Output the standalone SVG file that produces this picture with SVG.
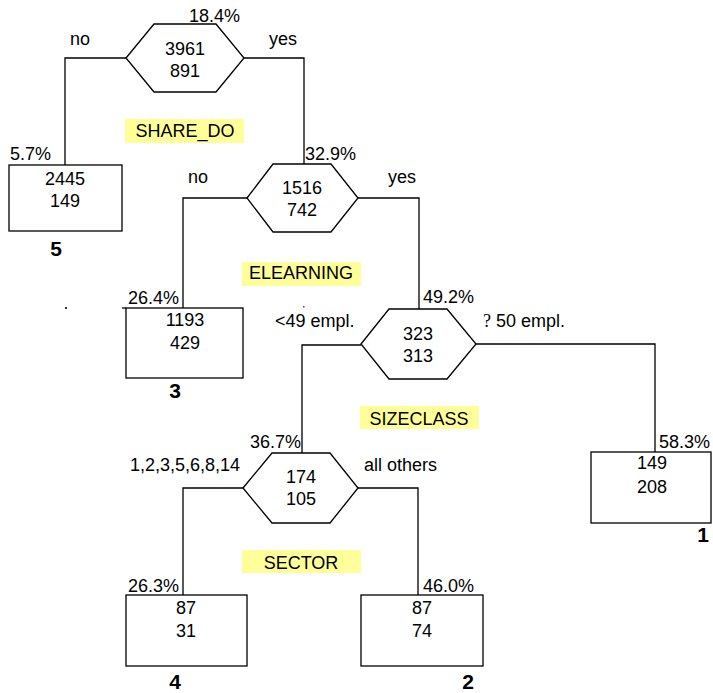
<svg xmlns="http://www.w3.org/2000/svg" width="713" height="693" viewBox="0 0 713 693">
<style>
text{font-family:"Liberation Sans",Arial,sans-serif;font-size:18px;fill:#000}
.c{text-anchor:middle}
.b{font-weight:bold;font-size:21px}
.shape{fill:#fff;stroke:#000;stroke-width:1.3}
.lab{fill:#ffff99}
.conn path{fill:none;stroke:#000;stroke-width:1.3}
.q{font-family:"Liberation Serif",serif;font-size:18px}
</style>
<rect width="713" height="693" fill="#fff"/>
<g class="conn" id="connectors">
<path d="M126,58 H65 V165"/>
<path d="M244,58 H304 V164"/>
<path d="M247,198 H183 V308"/>
<path d="M358,198 H419 V309"/>
<path d="M361,345 H302 V453"/>
<path d="M476,344 H655 V452"/>
<path d="M243,488 H183 V595"/>
<path d="M358,488 H418 V595"/>
<path d="M122,308 H126"/>
</g>
<g id="labels">
<rect class="lab" x="125" y="119" width="119" height="24"/>
<text class="c" x="185" y="137">SHARE_DO</text>
<rect class="lab" x="242" y="262" width="119" height="24"/>
<text class="c" x="301" y="279">ELEARNING</text>
<rect class="lab" x="360" y="406" width="119" height="23"/>
<text class="c" x="419" y="425">SIZECLASS</text>
<rect class="lab" x="242" y="550" width="119" height="23"/>
<text class="c" x="301" y="569">SECTOR</text>
<text x="189" y="22">18.4%</text>
<text x="70" y="45">no</text>
<text x="269" y="45">yes</text>
<text x="10" y="160">5.7%</text>
<text x="305" y="160">32.9%</text>
<text x="188" y="183">no</text>
<text x="388" y="183">yes</text>
<text x="128" y="304">26.4%</text>
<text x="423" y="303">49.2%</text>
<text x="275" y="327">&lt;49 empl.</text>
<text x="483" y="327"><tspan class="q">?</tspan> 50 empl.</text>
<text x="250" y="448">36.7%</text>
<text x="130" y="471">1,2,3,5,6,8,14</text>
<text x="364" y="471">all others</text>
<text x="659" y="448">58.3%</text>
<text x="128" y="592">26.3%</text>
<text x="423" y="592">46.0%</text>
<rect x="65" y="307" width="2" height="2" fill="#333"/>
<rect x="303" y="306" width="1.5" height="1.5" fill="#555"/>
</g>
<g id="n_root">
<polygon class="shape" points="126,58 154,24 216,24 244,58 216,92 154,92"/>
<text class="c" x="185" y="55">3961</text>
<text class="c" x="185" y="77">891</text>
</g>
<g id="n_elearning">
<polygon class="shape" points="247,198 273,164 331,164 358,198 331,232 273,232"/>
<text class="c" x="302" y="194">1516</text>
<text class="c" x="302" y="216">742</text>
</g>
<g id="n_sizeclass">
<polygon class="shape" points="361,344 389,309 447,309 476,344 447,379 389,379"/>
<text class="c" x="418" y="340">323</text>
<text class="c" x="418" y="362">313</text>
</g>
<g id="n_sector">
<polygon class="shape" points="243,488 272,453 330,453 358,488 330,523 272,523"/>
<text class="c" x="301" y="483">174</text>
<text class="c" x="301" y="505">105</text>
</g>
<g id="leaf5">
<rect class="shape" x="9" y="165" width="113" height="66"/>
<text class="c" x="65" y="185">2445</text>
<text class="c" x="65" y="207">149</text>
<text class="c b" x="56" y="256">5</text>
</g>
<g id="leaf3">
<rect class="shape" x="126" y="308" width="117" height="70"/>
<text class="c" x="185" y="326">1193</text>
<text class="c" x="185" y="349">429</text>
<text class="c b" x="175" y="398">3</text>
</g>
<g id="leaf1">
<rect class="shape" x="591" y="452" width="120" height="71"/>
<text class="c" x="652" y="469">149</text>
<text class="c" x="652" y="493">208</text>
<text class="c b" x="703" y="542">1</text>
</g>
<g id="leaf4">
<rect class="shape" x="126" y="595" width="121" height="71"/>
<text class="c" x="186" y="614">87</text>
<text class="c" x="186" y="637">31</text>
<text class="c b" x="175" y="689">4</text>
</g>
<g id="leaf2">
<rect class="shape" x="361" y="595" width="122" height="71"/>
<text class="c" x="422" y="614">87</text>
<text class="c" x="422" y="637">74</text>
<text class="c b" x="468" y="689">2</text>
</g>
</svg>
